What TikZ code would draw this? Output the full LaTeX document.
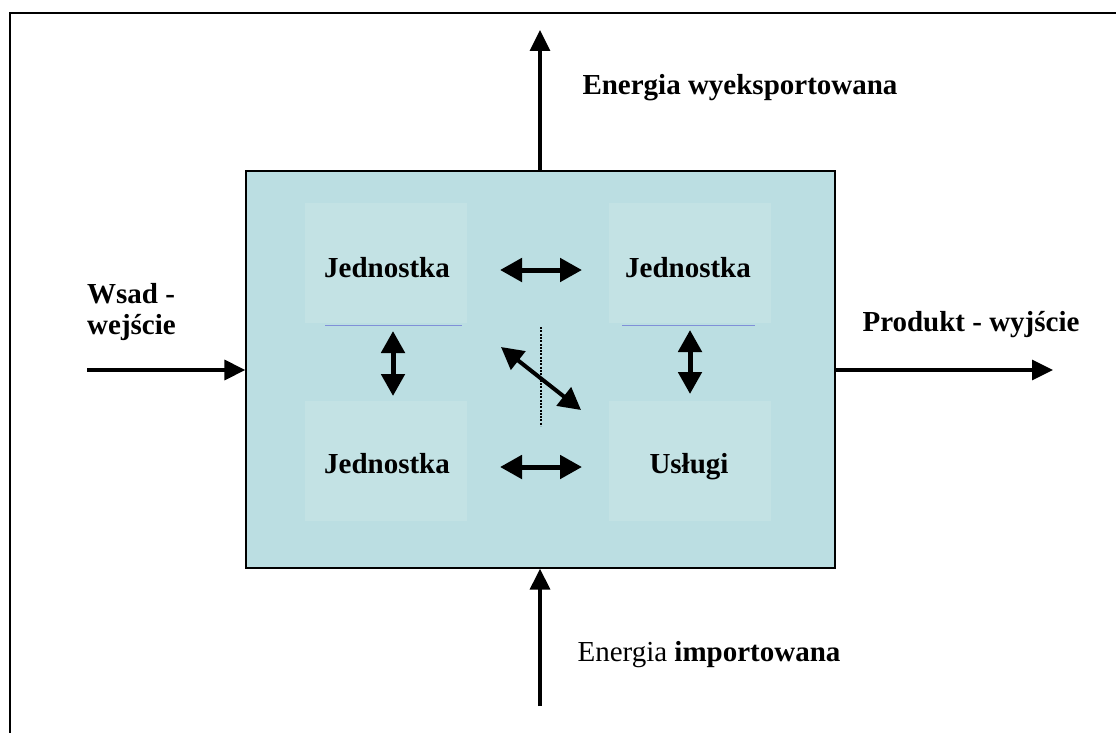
\documentclass[tikz,border=0pt]{standalone}
\usepackage{fontspec}
\setmainfont{Liberation Serif}
\usetikzlibrary{arrows.meta}
\definecolor{boxfill}{HTML}{BBDEE2}
\definecolor{subfill}{HTML}{C3E2E4}
\definecolor{sepline}{HTML}{8090D8}
\tikzset{
  lbl/.style={font=\fontsize{29}{33}\selectfont\bfseries, inner sep=0pt},
  subbox/.style={fill=subfill, draw=none, minimum width=162pt, minimum height=120pt, inner sep=0pt},
  flow/.style={line width=3.4pt, -{Triangle[length=21pt,width=20pt]}},
  dbl/.style={line width=5pt, {Triangle[length=22pt,width=23pt]}-{Triangle[length=22pt,width=23pt]}},
}
\begin{document}
\begin{tikzpicture}[x=1pt,y=-1pt]
\useasboundingbox (0,0) rectangle (1116,733);
\fill[white] (0,0) rectangle (1116,733);
% outer frame
\draw[line width=2pt] (1116,13) -- (10,13) -- (10,733);
% main box
\node[draw=black, line width=1.3pt, fill=boxfill, minimum width=589pt, minimum height=397pt, inner sep=0pt] (main) at (540.5,369.5) {};
% sub boxes
\node[subbox] (tl) at (386,263) {};
\node[subbox] (bl) at (386,461) {};
\node[subbox] (tr) at (690,263) {};
\node[subbox] (br) at (690,461) {};
\node[lbl, anchor=base] (tlt) at (387,277) {Jednostka};
\node[lbl, anchor=base] (trt) at (688,277) {Jednostka};
\node[lbl, anchor=base] (blt) at (387,473) {Jednostka};
\node[lbl, anchor=base] (brt) at (689,473) {Usługi};
% thin separators
\coordinate (s1a) at (325,325); \coordinate (s1b) at (462,325);
\coordinate (s2a) at (622,325); \coordinate (s2b) at (755,325);
\draw[sepline, line width=0.6pt] (s1a) -- (s1b);
\draw[sepline, line width=0.6pt] (s2a) -- (s2b);
% internal double arrows
\coordinate (h1a) at (500,270); \coordinate (h1b) at (582,270);
\coordinate (h2a) at (500,467); \coordinate (h2b) at (582,467);
\coordinate (v1a) at (393,331); \coordinate (v1b) at (393,396);
\coordinate (v2a) at (690,330); \coordinate (v2b) at (690,394);
\coordinate (d1a) at (501,347); \coordinate (d1b) at (581,410);
\coordinate (dota) at (541,327); \coordinate (dotb) at (541,426);
\draw[line width=2.2pt, dash pattern=on 2pt off 1.3pt] (dota) -- (dotb);
\draw[dbl] (h1a) -- (h1b);
\draw[dbl] (h2a) -- (h2b);
\draw[dbl] (v1a) -- (v1b);
\draw[dbl] (v2a) -- (v2b);
\draw[dbl, line width=4pt] (d1a) -- (d1b);
% external flows
\coordinate (topend) at (540,30);
\coordinate (botstart) at (540,706);
\coordinate (leftstart) at (87,370);
\coordinate (rightend) at (1053,370);
\draw[flow] (main.north -| topend) -- (topend);
\draw[flow] (botstart) -- (main.south -| botstart);
\draw[flow] (leftstart) -- (main.west |- leftstart);
\draw[flow] (main.east |- rightend) -- (rightend);
% labels
\node[lbl] (exp) at (740,88) {Energia wyeksportowana};
\node[font=\fontsize{29}{33}\selectfont, inner sep=0pt] (imp) at (709,655) {Energia \textbf{importowana}};
\node[lbl, anchor=west, align=left] (wsad) at (87,312) {Wsad -\\[-2pt]wejście};
\node[lbl] (prod) at (971,325) {Produkt - wyjście};
\end{tikzpicture}
\end{document}
